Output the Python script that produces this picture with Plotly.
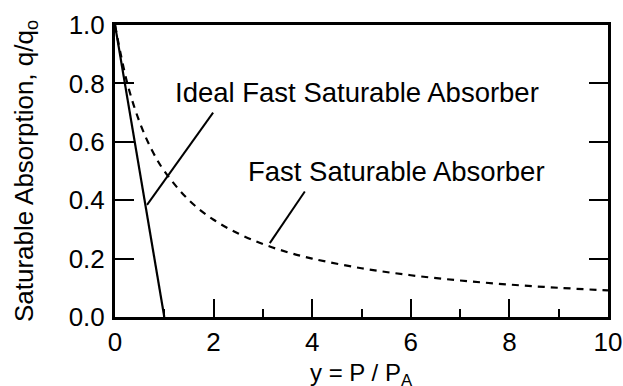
import plotly.graph_objects as go

# Ideal fast saturable absorber (solid)
ideal_x = [0, 1]
ideal_y = [1.0, 0.0]

# Fast saturable absorber (dashed)
fast_x = [0, 0.25, 0.5, 0.75, 1, 1.5, 2, 2.5, 3, 3.5, 4, 5, 6, 7, 8, 9, 10]
fast_y = [1.0, 0.80, 0.667, 0.571, 0.50, 0.40, 0.333, 0.286, 0.25, 0.222,
          0.20, 0.167, 0.143, 0.125, 0.111, 0.10, 0.091]

# Labels and their leader lines
label_text = ["Ideal Fast Saturable Absorber", "Fast Saturable Absorber"]
label_x = [4.91, 5.70]
label_y = [0.77, 0.497]
leader_x = [[0.65, 1.99], [3.14, 3.85]]
leader_y = [[0.384, 0.70], [0.253, 0.43]]

y_ticks = [0, 0.2, 0.4, 0.6, 0.8, 1.0]
x_ticks = [0, 2, 4, 6, 8, 10]
x_title = "y = P / P<sub>A</sub>"
y_title = "Saturable Absorption, q/q<sub>o</sub>"

FONT = "Liberation Sans, Arial, Helvetica, sans-serif"

fig = go.Figure()
fig.add_trace(go.Scatter(x=fast_x, y=fast_y, mode="lines", line_shape="spline",
                         line=dict(color="black", width=2.2, dash="7px,6px"),
                         showlegend=False, hoverinfo="skip"))
fig.add_trace(go.Scatter(x=ideal_x, y=ideal_y, mode="lines",
                         line=dict(color="black", width=2.2),
                         showlegend=False, hoverinfo="skip"))
for lx, ly in zip(leader_x, leader_y):
    fig.add_trace(go.Scatter(x=lx, y=ly, mode="lines",
                             line=dict(color="black", width=2),
                             showlegend=False, hoverinfo="skip"))
for t, x, y in zip(label_text, label_x, label_y):
    fig.add_annotation(x=x, y=y, text=t, showarrow=False,
                       font=dict(family=FONT, size=27.5, color="black"),
                       xanchor="center", yanchor="middle")

# x-axis title as a paper-positioned annotation
fig.add_annotation(x=0.5, y=-0.197, xref="paper", yref="paper", text=x_title,
                   showarrow=False, xanchor="center", yanchor="middle",
                   font=dict(family=FONT, size=24, color="black"))

fig.update_xaxes(range=[0, 10], tickvals=x_ticks, ticks="inside", ticklen=18,
                 tickwidth=2, tickcolor="black", showline=True, linecolor="black",
                 linewidth=3, mirror=True, showgrid=False, zeroline=False,
                 automargin=False,
                 minor=dict(ticks="inside", ticklen=8, dtick=1, tickwidth=2,
                            tickcolor="black", showgrid=False),
                 tickfont=dict(family=FONT, size=26, color="black"))
fig.update_yaxes(range=[0, 1.0], tickvals=y_ticks, tickformat=".1f",
                 ticks="inside", ticklen=19, tickwidth=2, tickcolor="black",
                 showline=True, linecolor="black", linewidth=3, mirror="ticks",
                 showgrid=False, zeroline=False, automargin=False,
                 ticklabelstandoff=2,
                 tickfont=dict(family=FONT, size=26, color="black"),
                 title=dict(text=y_title, standoff=28,
                            font=dict(family=FONT, size=26, color="black")))

fig.update_layout(width=623, height=386, margin=dict(l=115, r=15, t=25, b=69),
                  paper_bgcolor="white", plot_bgcolor="white",
                  font=dict(family=FONT, color="black"))

fig.write_html("out.html", config={"displayModeBar": False},
               post_script="document.body.style.margin='0';"
                           "document.body.style.overflow='hidden';")
